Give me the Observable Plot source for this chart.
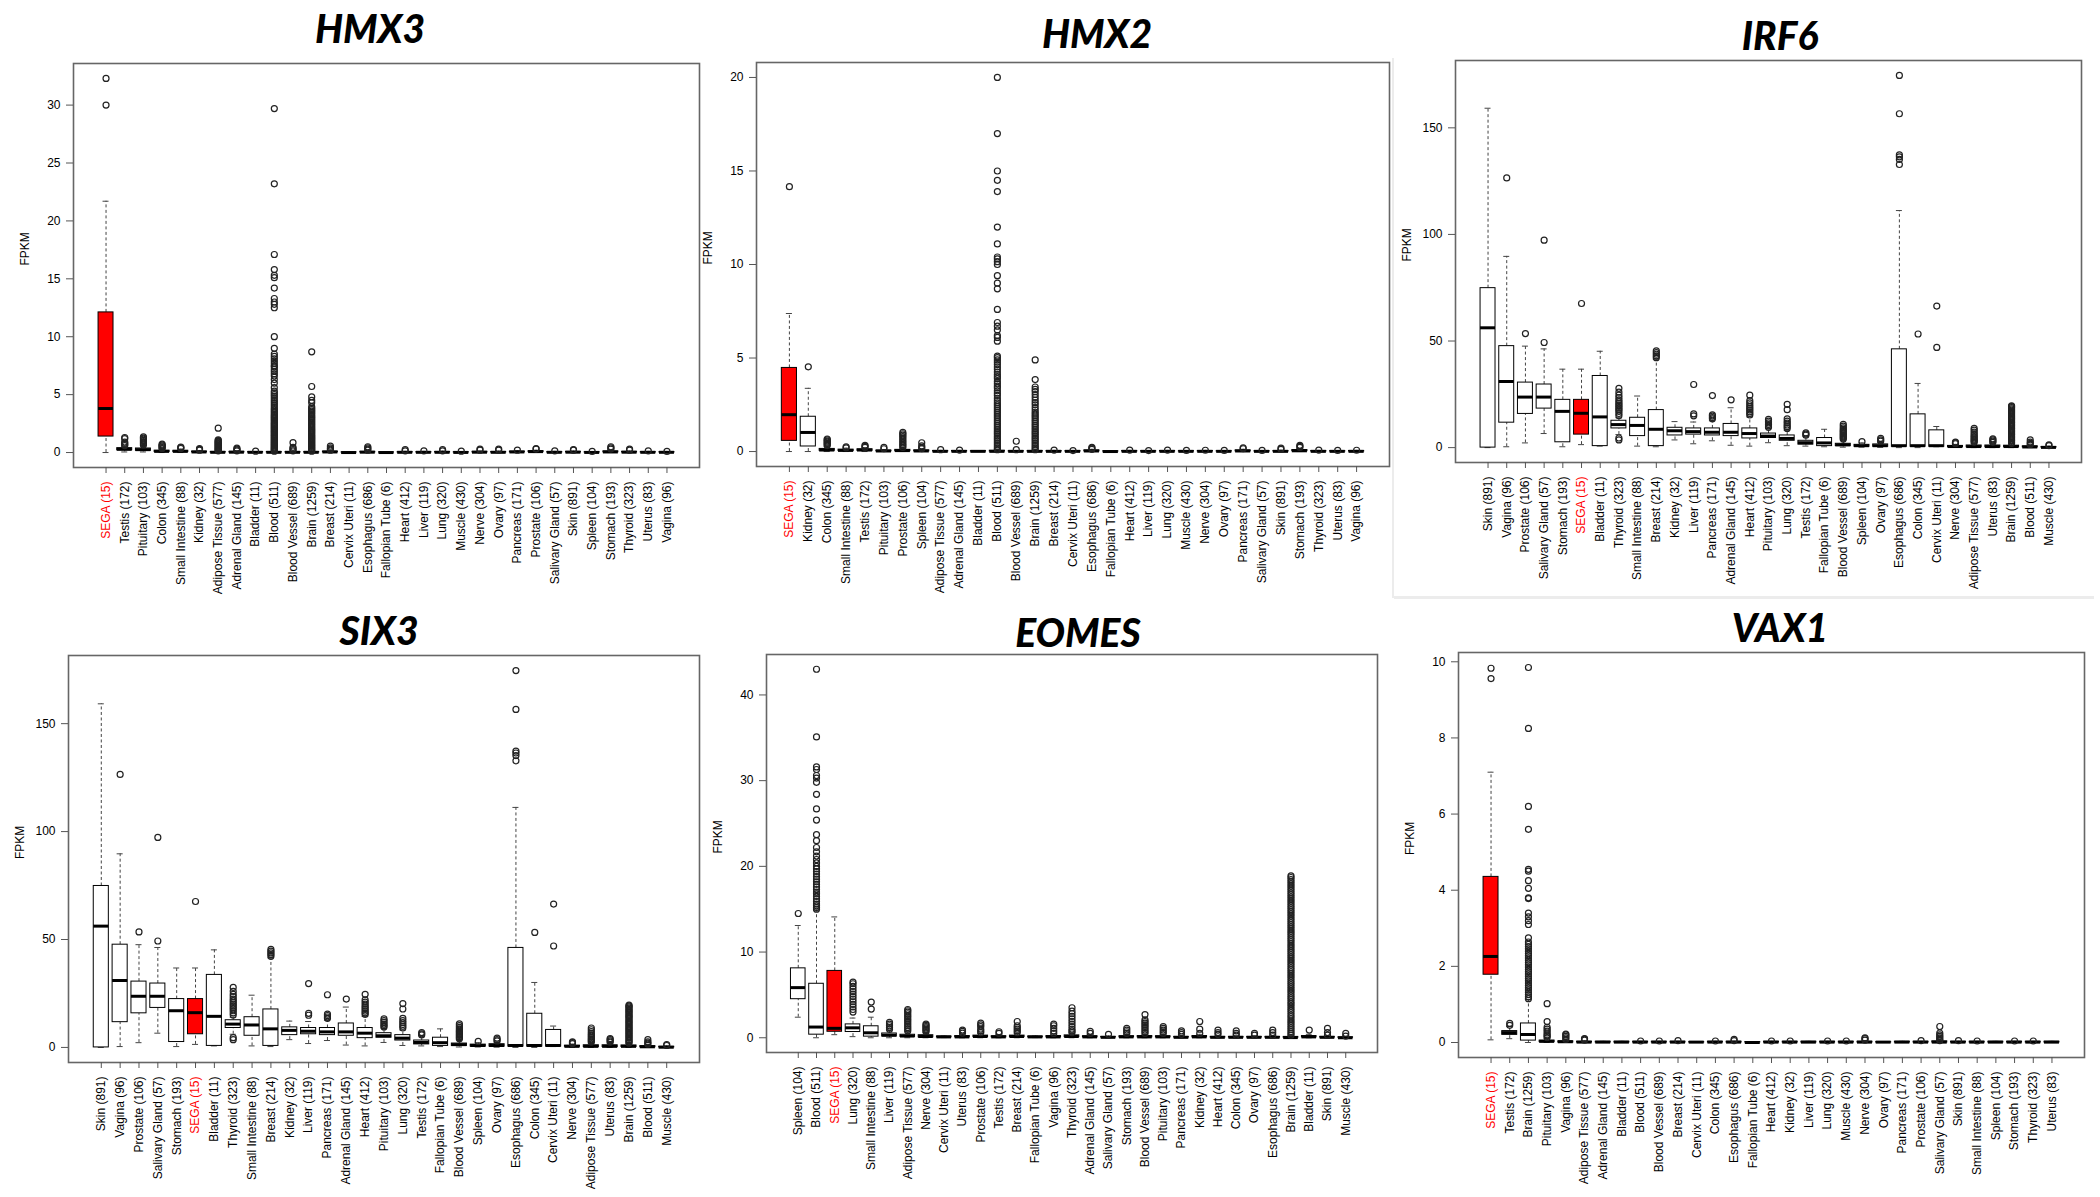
<!DOCTYPE html>
<html>
<head>
<meta charset="utf-8">
<script src="https://cdn.jsdelivr.net/npm/d3@7"></script>
<script src="https://cdn.jsdelivr.net/npm/@observablehq/plot@0.6"></script>
<style>
  html, body { margin: 0; padding: 0; background: #fff; }
  #page { position: relative; width: 2100px; height: 1197px; background: #fff; overflow: hidden; }
  .ttl { position: absolute; transform: translate(-50%, -50%); font-family: Lato, "Open Sans", sans-serif;
         font-weight: 900; font-style: italic; font-size: 39px; line-height: 1; color: #000; white-space: nowrap; }
  .pnl { position: absolute; }
  .faint { position: absolute; background: #ececec; }
</style>
</head>
<body>
<div id="page"></div>
<script>
// ---------------- DATA ----------------
// Tick values of the FPKM axes
const hmx3Ticks = [0, 5, 10, 15, 20, 25, 30];
const hmx2Ticks = [0, 5, 10, 15, 20];
const irf6Ticks = [0, 50, 100, 150];
const eomesTicks = [0, 10, 20, 30, 40];
const vax1Ticks = [0, 2, 4, 6, 8, 10];

// HMX3
const hmx3Labels = ["SEGA (15)","Testis (172)","Pituitary (103)","Colon (345)","Small Intestine (88)","Kidney (32)","Adipose Tissue (577)","Adrenal Gland (145)","Bladder (11)","Blood (511)","Blood Vessel (689)","Brain (1259)","Breast (214)","Cervix Uteri (11)","Esophagus (686)","Fallopian Tube (6)","Heart (412)","Liver (119)","Lung (320)","Muscle (430)","Nerve (304)","Ovary (97)","Pancreas (171)","Prostate (106)","Salivary Gland (57)","Skin (891)","Spleen (104)","Stomach (193)","Thyroid (323)","Uterus (83)","Vagina (96)"];
const hmx3Q1  = [1.38,0.2,0.15,0.05,0.05,0.02,0,0.01,0,0,0,0,0.02,0,0.01,0,0,0,0,0,0.01,0,0.02,0.04,0,0.01,0,0.02,0.01,0,0];
const hmx3Med = [3.8,0.28,0.25,0.1,0.1,0.05,0.02,0.03,0.02,0.02,0.02,0.02,0.05,0,0.03,0,0.02,0.02,0.02,0.01,0.03,0.02,0.05,0.08,0.02,0.03,0.01,0.05,0.03,0.02,0.02];
const hmx3Q3  = [12.1,0.38,0.35,0.16,0.15,0.08,0.05,0.06,0.04,0.04,0.04,0.04,0.08,0.01,0.06,0.01,0.04,0.04,0.05,0.03,0.06,0.05,0.08,0.12,0.04,0.06,0.03,0.1,0.06,0.04,0.04];
const hmx3Lo  = [0,0.05,0.05,0,0,0,0,0,0,0,0,0,0,0,0,0,0,0,0,0,0,0,0,0,0,0,0,0,0,0,0];
const hmx3Hi  = [21.7,0.55,0.6,0.3,0.3,0.15,0.12,0.12,0.08,0.1,0.1,0.1,0.15,0.02,0.12,0.02,0.1,0.1,0.12,0.07,0.12,0.12,0.15,0.2,0.1,0.12,0.07,0.2,0.12,0.1,0.08];
const hmx3Out = [
  [30.0,32.3],
  [0.6,0.7,0.8,0.9,1.2,1.3],
  [0.65,0.75,0.85,0.95,1.05,1.15,1.25,1.35],
  [0.35,0.42,0.5,0.58,0.65,0.72],
  [0.35,0.42,0.48],
  [0.2,0.28,0.33],
  [0.15,0.2,0.25,0.3,0.36,0.42,0.48,0.54,0.6,0.66,0.72,0.78,0.84,0.9,0.96,1.02,1.1,2.1],
  [0.15,0.22,0.3,0.38],
  [0.12],
  [0.12,0.18,0.25,0.33,0.4,0.48,0.55,0.63,0.7,0.78,0.86,0.94,1.02,1.1,1.18,1.27,1.35,1.44,1.52,1.6,1.7,1.78,1.87,1.95,2.05,2.14,2.23,2.32,2.42,2.5,2.6,2.7,2.8,2.9,3.0,3.1,3.2,3.3,3.42,3.55,3.68,3.8,3.95,4.1,4.25,4.4,4.55,4.7,4.85,5.0,5.15,5.3,5.6,6.0,6.3,6.6,6.8,7.0,7.2,7.4,7.5,7.7,7.9,8.1,8.3,8.5,9.0,10.0,12.5,12.8,13.0,13.3,14.2,15.1,15.3,15.8,17.1,23.2,29.7],
  [0.15,0.25,0.35,0.45,0.85],
  [0.12,0.2,0.28,0.36,0.45,0.53,0.62,0.7,0.8,0.88,0.97,1.06,1.15,1.24,1.33,1.42,1.52,1.62,1.72,1.82,1.92,2.02,2.12,2.22,2.33,2.44,2.55,2.66,2.77,2.88,3.0,3.1,3.22,3.34,3.46,3.58,3.7,3.82,3.95,4.3,4.5,4.8,5.7,8.7],
  [0.2,0.3,0.4,0.55],
  [],
  [0.2,0.3,0.4,0.5],
  [],
  [0.15,0.25],
  [0.15],
  [0.15,0.25],
  [0.12],
  [0.2,0.3],
  [0.2,0.3],
  [0.2],
  [0.3,0.35],
  [0.15],
  [0.2,0.25],
  [0.1],
  [0.3,0.4,0.5],
  [0.2,0.3],
  [0.15],
  [0.1]
];

// HMX2
const hmx2Labels = ["SEGA (15)","Kidney (32)","Colon (345)","Small Intestine (88)","Testis (172)","Pituitary (103)","Prostate (106)","Spleen (104)","Adipose Tissue (577)","Adrenal Gland (145)","Bladder (11)","Blood (511)","Blood Vessel (689)","Brain (1259)","Breast (214)","Cervix Uteri (11)","Esophagus (686)","Fallopian Tube (6)","Heart (412)","Liver (119)","Lung (320)","Muscle (430)","Nerve (304)","Ovary (97)","Pancreas (171)","Salivary Gland (57)","Skin (891)","Stomach (193)","Thyroid (323)","Uterus (83)","Vagina (96)"];
const hmx2Q1  = [0.57,0.27,0.04,0.03,0.04,0.01,0.02,0.01,0,0,0,0,0,0,0,0,0.01,0,0,0,0,0,0,0,0.01,0,0,0.02,0,0,0];
const hmx2Med = [1.97,1.02,0.08,0.06,0.08,0.03,0.05,0.03,0.01,0.01,0.01,0.01,0.01,0.01,0.01,0.01,0.03,0,0.01,0.01,0.01,0.01,0.01,0.01,0.03,0.01,0.01,0.04,0.01,0.01,0.01];
const hmx2Q3  = [4.47,1.86,0.14,0.1,0.12,0.05,0.09,0.06,0.03,0.03,0.02,0.04,0.02,0.03,0.03,0.02,0.06,0.01,0.03,0.02,0.03,0.02,0.03,0.02,0.06,0.02,0.03,0.08,0.03,0.02,0.03];
const hmx2Lo  = [0,0,0,0,0,0,0,0,0,0,0,0,0,0,0,0,0,0,0,0,0,0,0,0,0,0,0,0,0,0,0];
const hmx2Hi  = [7.38,3.38,0.28,0.18,0.2,0.1,0.18,0.12,0.06,0.06,0.04,0.09,0.05,0.07,0.06,0.04,0.12,0.02,0.06,0.04,0.06,0.04,0.06,0.04,0.12,0.04,0.07,0.16,0.06,0.04,0.06];
const hmx2Out = [
  [14.16],
  [4.53],
  [0.32,0.38,0.44,0.5,0.56,0.62,0.67],
  [0.2,0.25],
  [0.22,0.28,0.33],
  [0.15,0.22],
  [0.22,0.3,0.38,0.46,0.55,0.63,0.72,0.8,0.88,0.95,1.02],
  [0.15,0.22,0.3,0.47],
  [0.1],
  [0.08],
  [],
  [0.1,0.18,0.27,0.36,0.45,0.55,0.64,0.73,0.82,0.92,1.01,1.1,1.2,1.3,1.4,1.5,1.6,1.7,1.8,1.9,2.0,2.1,2.2,2.3,2.4,2.5,2.6,2.72,2.85,3.0,3.12,3.25,3.4,3.5,3.62,3.75,3.9,4.0,4.12,4.25,4.4,4.52,4.65,4.78,4.9,5.02,5.1,5.9,6.1,6.2,6.5,6.7,6.9,7.6,8.7,9.0,9.4,10.0,10.15,10.3,10.4,11.1,12.0,13.9,14.5,15.0,17.0,20.0],
  [0.1,0.55],
  [0.1,0.18,0.27,0.36,0.45,0.55,0.64,0.73,0.82,0.92,1.01,1.1,1.2,1.3,1.4,1.5,1.6,1.7,1.8,1.9,2.0,2.1,2.22,2.35,2.5,2.62,2.75,2.9,3.05,3.2,3.32,3.45,3.85,4.9],
  [0.08],
  [0.05],
  [0.12,0.18,0.22],
  [],
  [0.08],
  [0.05],
  [0.08],
  [0.06],
  [0.07],
  [0.06],
  [0.15,0.2],
  [0.06],
  [0.12,0.18],
  [0.22,0.28,0.33],
  [0.08],
  [0.06],
  [0.07]
];

// IRF6 (the SIX3 panel of the figure shows the same distribution)
const irf6Labels = ["Skin (891)","Vagina (96)","Prostate (106)","Salivary Gland (57)","Stomach (193)","SEGA (15)","Bladder (11)","Thyroid (323)","Small Intestine (88)","Breast (214)","Kidney (32)","Liver (119)","Pancreas (171)","Adrenal Gland (145)","Heart (412)","Pituitary (103)","Lung (320)","Testis (172)","Fallopian Tube (6)","Blood Vessel (689)","Spleen (104)","Ovary (97)","Esophagus (686)","Colon (345)","Cervix Uteri (11)","Nerve (304)","Adipose Tissue (577)","Uterus (83)","Brain (1259)","Blood (511)","Muscle (430)"];
const irf6Q1  = [0,11.7,15.8,18.3,2.5,6.1,0.7,9.0,5.4,0.7,5.7,6.1,5.7,5.4,4.3,4.5,3.2,1.4,0.7,0.7,0.4,0.4,0.4,0.4,0.4,0.3,0.2,0.2,0.2,0.1,0.0];
const irf6Med = [56.2,31.0,23.7,23.7,17.0,16.1,14.4,10.8,10.4,8.6,7.9,7.5,7.2,7.2,6.6,5.4,4.3,2.3,2.2,1.3,0.9,0.9,0.9,0.9,0.9,0.5,0.5,0.5,0.5,0.3,0.1];
const irf6Q3  = [74.8,47.6,30.5,29.6,22.4,22.4,33.6,12.6,14.0,17.6,9.3,9.0,9.0,11.1,9.0,6.6,5.7,3.2,4.5,1.8,1.3,1.5,46.1,15.6,8.1,0.8,1.0,1.0,0.9,0.6,0.3];
const irf6Lo  = [0,0.4,2.2,6.6,0.4,1.4,0.7,6.1,0.7,0.4,3.6,1.8,3.2,1.1,0.7,2.3,0.9,0.7,0.4,0.2,0.2,0.1,0,0,0.4,0.1,0,0,0,0,0];
const irf6Hi  = [159.2,89.7,47.6,46.3,36.8,36.8,45.2,14.0,24.2,41.5,12.2,12.0,12.6,18.7,14.4,9.0,8.1,5.4,8.6,3.6,2.2,2.5,111.2,30.1,9.9,1.5,2.0,2.0,1.9,1.2,0.7];
const irf6Out = [
  [],
  [126.5],
  [53.5],
  [49.3,97.3],
  [],
  [67.6],
  [],
  [3.6,4.5,15,16,17,17.8,18.5,19.3,20,20.8,21.6,22.4,23.5,24.6,26,27.8],
  [],
  [42.2,43.0,43.8,44.6,45.4],
  [],
  [14.9,15.8,29.6],
  [13.5,14.1,14.8,15.4,24.4],
  [22.4],
  [15.3,16.0,16.8,17.6,18.4,19.2,20.1,21.0,22.0,24.6],
  [9.5,10.1,10.8,11.6,12.4,13.2],
  [9.0,9.8,10.6,11.5,12.4,13.5,17.8,20.3],
  [5.8,6.3,6.9],
  [],
  [4.0,4.5,5.0,5.5,6.0,6.5,7.0,7.5,8.0,8.6,9.3,10.1,10.9],
  [2.8],
  [3.0,3.6,4.3],
  [132.8,135.2,136.4,137.3,156.6,174.6],
  [53.3],
  [47.0,66.4],
  [1.8,2.2,2.6],
  [2.5,3.0,3.5,4.0,4.6,5.2,5.8,6.5,7.3,8.2,9.0],
  [2.5,3.0,3.6,4.1],
  [2.0,2.5,3.1,3.6,4.2,4.8,5.3,5.9,6.4,7.0,7.6,8.1,8.7,9.2,9.8,10.4,10.9,11.5,12.0,12.6,13.2,13.7,14.3,14.8,15.4,16.0,16.5,17.1,17.6,18.2,18.8,19.2,19.6],
  [1.5,2.0,2.6,3.6],
  [0.9,1.3]
];

// EOMES
const eomesLabels = ["Spleen (104)","Blood (511)","SEGA (15)","Lung (320)","Small Intestine (88)","Liver (119)","Adipose Tissue (577)","Nerve (304)","Cervix Uteri (11)","Uterus (83)","Prostate (106)","Testis (172)","Breast (214)","Fallopian Tube (6)","Vagina (96)","Thyroid (323)","Adrenal Gland (145)","Salivary Gland (57)","Stomach (193)","Blood Vessel (689)","Pituitary (103)","Pancreas (171)","Kidney (32)","Heart (412)","Colon (345)","Ovary (97)","Esophagus (686)","Brain (1259)","Bladder (11)","Skin (891)","Muscle (430)"];
const eomesQ1  = [4.5,0.36,0.7,0.67,0.13,0.15,0.1,0.05,0.05,0.05,0.08,0.05,0.08,0.05,0.05,0.08,0.05,0.03,0.05,0.05,0.05,0.02,0.05,0.02,0.02,0.02,0.02,0,0.05,0.02,0];
const eomesMed = [5.85,1.25,1.1,1.16,0.58,0.3,0.2,0.15,0.1,0.1,0.15,0.1,0.15,0.1,0.1,0.15,0.1,0.05,0.1,0.1,0.1,0.05,0.1,0.05,0.05,0.05,0.05,0.02,0.1,0.05,0];
const eomesQ3  = [8.1,6.3,7.8,1.56,1.34,0.5,0.35,0.3,0.15,0.2,0.25,0.18,0.25,0.15,0.2,0.28,0.18,0.1,0.18,0.2,0.18,0.1,0.2,0.1,0.1,0.1,0.1,0.1,0.2,0.1,0.05];
const eomesLo  = [2.4,0,0.36,0.13,0,0,0,0,0.02,0,0,0,0,0.02,0,0,0,0,0,0,0,0,0,0,0,0,0,0,0,0,0];
const eomesHi  = [13.1,14.9,14.1,2.3,2.4,0.9,0.7,0.6,0.2,0.4,0.5,0.38,0.5,0.2,0.4,0.55,0.38,0.2,0.38,0.4,0.38,0.2,0.4,0.2,0.2,0.2,0.2,0.25,0.4,0.2,0.12];
const eomesOut = [
  [14.5],
  [15.0,15.2,15.4,15.6,15.9,16.2,16.5,16.8,17.0,17.3,17.6,17.9,18.2,18.5,18.8,19.1,19.4,19.7,20.0,20.4,20.8,21.2,21.7,22.2,23.0,23.7,25.4,26.7,28.4,29.8,30.3,30.6,31.3,31.6,35.1,43.0],
  [],
  [3.0,3.3,3.6,3.9,4.2,4.5,4.8,5.1,5.4,5.7,6.0,6.3,6.5],
  [3.35,4.16],
  [1.0,1.2,1.4,1.6,1.8],
  [0.8,1.0,1.2,1.4,1.6,1.8,2.0,2.2,2.4,2.6,2.8,3.0,3.15,3.3],
  [0.7,0.85,1.0,1.15,1.3,1.45,1.6],
  [],
  [0.55,0.75,0.9],
  [0.6,0.8,1.0,1.3,1.5,1.7],
  [0.5,0.7],
  [0.6,0.8,1.0,1.2,1.4,1.9],
  [],
  [0.5,0.8,1.1,1.4,1.6],
  [0.6,0.8,1.0,1.3,1.6,1.9,2.2,2.5,2.8,3.1,3.5],
  [0.5,0.75],
  [0.4],
  [0.5,0.7,0.9,1.1],
  [0.5,0.7,0.9,1.1,1.3,1.5,1.7,1.9,2.1,2.7],
  [0.5,0.7,0.9,1.1,1.3],
  [0.4,0.6,0.8],
  [0.5,1.0,1.9],
  [0.4,0.6,0.9],
  [0.3,0.5,0.8],
  [0.3,0.5],
  [0.3,0.6,0.9],
  [0.3,0.5,0.72,0.95,1.2,1.44,1.7,1.93,2.2,2.45,2.68,2.95,3.2,3.44,3.7,3.95,4.18,4.45,4.7,4.93,5.2,5.45,5.7,5.94,6.2,6.45,6.7,6.96,7.2,7.45,7.7,7.94,8.2,8.45,8.7,8.95,9.2,9.44,9.7,9.96,10.2,10.45,10.7,10.94,11.2,11.45,11.7,11.95,12.2,12.44,12.7,12.95,13.2,13.45,13.7,13.94,14.2,14.45,14.7,14.95,15.2,15.44,15.7,15.95,16.2,16.45,16.7,16.94,17.2,17.45,17.7,17.95,18.2,18.45,18.7,18.9],
  [0.9],
  [0.3,0.6,1.1],
  [0.2,0.5]
];

// VAX1
const vax1Labels = ["SEGA (15)","Testis (172)","Brain (1259)","Pituitary (103)","Vagina (96)","Adipose Tissue (577)","Adrenal Gland (145)","Bladder (11)","Blood (511)","Blood Vessel (689)","Breast (214)","Cervix Uteri (11)","Colon (345)","Esophagus (686)","Fallopian Tube (6)","Heart (412)","Kidney (32)","Liver (119)","Lung (320)","Muscle (430)","Nerve (304)","Ovary (97)","Pancreas (171)","Prostate (106)","Salivary Gland (57)","Skin (891)","Small Intestine (88)","Spleen (104)","Stomach (193)","Thyroid (323)","Uterus (83)"];
const vax1Q1  = [1.78,0.2,0.05,0.01,0,0,0,0,0,0,0,0,0,0,0,0,0,0,0,0,0,0,0,0,0,0,0,0,0,0,0];
const vax1Med = [2.26,0.26,0.21,0.03,0.02,0.01,0.01,0.01,0.01,0.01,0.01,0.01,0.01,0.01,0,0.01,0.01,0.01,0.01,0.01,0.01,0.01,0.01,0.01,0.01,0.01,0.01,0.01,0.01,0.01,0.01];
const vax1Q3  = [4.35,0.3,0.5,0.05,0.03,0.02,0.02,0.02,0.02,0.02,0.02,0.01,0.02,0.02,0.01,0.02,0.02,0.02,0.02,0.02,0.02,0.01,0.02,0.02,0.03,0.02,0.02,0.02,0.02,0.02,0.02];
const vax1Lo  = [0.07,0.1,0,0,0,0,0,0,0,0,0,0,0,0,0,0,0,0,0,0,0,0,0,0,0,0,0,0,0,0,0];
const vax1Hi  = [7.1,0.42,1.13,0.1,0.06,0.04,0.03,0.03,0.03,0.03,0.03,0.02,0.03,0.03,0.01,0.03,0.03,0.03,0.03,0.03,0.04,0.02,0.03,0.03,0.04,0.03,0.03,0.03,0.03,0.03,0.03];
const vax1Out = [
  [9.56,9.83],
  [0.45,0.5],
  [1.15,1.2,1.26,1.32,1.38,1.44,1.5,1.56,1.62,1.68,1.74,1.8,1.86,1.92,1.98,2.04,2.1,2.16,2.22,2.28,2.34,2.4,2.46,2.52,2.58,2.64,2.75,3.1,3.2,3.3,3.4,3.78,3.8,4.05,4.25,4.5,4.55,5.6,6.2,8.25,9.85],
  [0.13,0.17,0.2,0.25,0.3,0.35,0.4,0.55,1.02],
  [0.08,0.12,0.16,0.2,0.22],
  [0.06,0.09,0.1],
  [], [], [0.04], [0.04], [0.05], [], [0.04], [0.05,0.08], [], [0.04], [0.04], [], [0.04], [0.04],
  [0.06,0.1,0.12],
  [], [], [0.05],
  [0.05,0.08,0.12,0.16,0.2,0.25,0.42],
  [0.05], [0.04], [], [0.04], [0.04], []
];

// ---------------- LAYOUT ----------------
const panels = [
  {title: "HMX3",  L: 73,   R: 699,  T: 63,  B: 467,  tx: 370,  ty: 28,  ticks: hmx3Ticks,  d: [hmx3Labels, hmx3Q1, hmx3Med, hmx3Q3, hmx3Lo, hmx3Hi, hmx3Out]},
  {title: "HMX2",  L: 756,  R: 1389, T: 62,  B: 466,  tx: 1097, ty: 33,  ticks: hmx2Ticks,  d: [hmx2Labels, hmx2Q1, hmx2Med, hmx2Q3, hmx2Lo, hmx2Hi, hmx2Out]},
  {title: "IRF6",  L: 1455, R: 2081, T: 60,  B: 462,  tx: 1780, ty: 35,  ticks: irf6Ticks,  d: [irf6Labels, irf6Q1, irf6Med, irf6Q3, irf6Lo, irf6Hi, irf6Out]},
  {title: "SIX3",  L: 68,   R: 699,  T: 655, B: 1062, tx: 379,  ty: 630, ticks: irf6Ticks,  d: [irf6Labels, irf6Q1, irf6Med, irf6Q3, irf6Lo, irf6Hi, irf6Out]},
  {title: "EOMES", L: 766,  R: 1377, T: 654, B: 1052, tx: 1078, ty: 632, ticks: eomesTicks, d: [eomesLabels, eomesQ1, eomesMed, eomesQ3, eomesLo, eomesHi, eomesOut]},
  {title: "VAX1",  L: 1458, R: 2084, T: 652, B: 1057, tx: 1780, ty: 627, ticks: vax1Ticks,  d: [vax1Labels, vax1Q1, vax1Med, vax1Q3, vax1Lo, vax1Hi, vax1Out]}
];

const page = document.getElementById("page");
const ML = 72, MR = 6, MT = 8, MB = 140;

function addFaint(x, y, w, h) {
  const f = document.createElement("div");
  f.className = "faint";
  Object.assign(f.style, {left: x + "px", top: y + "px", width: w + "px", height: h + "px"});
  page.appendChild(f);
}
addFaint(1392, 58, 2, 540);
addFaint(1394, 596, 700, 3);

for (const p of panels) {
  const [labels, q1, med, q3, lo, hi, out] = p.d;
  const stats = labels.map((label, i) => ({label, q1: q1[i], med: med[i], q3: q3[i], lo: lo[i], hi: hi[i]}));
  const pts = labels.flatMap((label, i) => out[i].map(v => ({label, v})));
  const all = [...lo, ...hi, ...out.flat()];
  const [mn, mx] = d3.extent(all);
  const pad = (mx - mn) * 0.04;
  const W = p.R - p.L, H = p.B - p.T;
  const step = W / (labels.length + 2.48);
  const cap = step * 0.8 * 0.3;
  const isSega = d => d.label.startsWith("SEGA");

  const svg = Plot.plot({
    width: W + ML + MR,
    height: H + MT + MB,
    marginLeft: ML, marginRight: MR, marginTop: MT, marginBottom: MB,
    style: {fontFamily: "'Liberation Sans', Arial, sans-serif", fontSize: "12px", background: "transparent", overflow: "visible", color: "#000"},
    x: {type: "band", domain: labels, paddingInner: 0.2, paddingOuter: 1.34, align: 0.5, round: false},
    y: {domain: [mn - pad, mx + pad]},
    marks: [
      Plot.frame({stroke: "#666", strokeWidth: 1.6}),
      Plot.axisY({ticks: p.ticks, tickSize: 7, tickPadding: 6, tickFormat: d3.format("d"), label: null, fontSize: 12, stroke: "#555", fill: "#000"}),
      Plot.axisX({tickRotate: -90, tickSize: 6, tickPadding: 8, label: null, fontSize: 12, stroke: "#555", fill: "#000"}),
      Plot.text(["FPKM"], {frameAnchor: "left", dx: -48, rotate: -90, fontSize: 12, fill: "#000"}),
      Plot.ruleX(stats, {x: "label", y1: "q3", y2: "hi", stroke: "#444", strokeDasharray: "3,2.5", strokeWidth: 1}),
      Plot.ruleX(stats, {x: "label", y1: "lo", y2: "q1", stroke: "#444", strokeDasharray: "3,2.5", strokeWidth: 1}),
      Plot.tickY(stats, {x: "label", y: "hi", insetLeft: cap, insetRight: cap, stroke: "#444", strokeWidth: 1}),
      Plot.tickY(stats, {x: "label", y: "lo", insetLeft: cap, insetRight: cap, stroke: "#444", strokeWidth: 1}),
      Plot.barY(stats, {x: "label", y1: "q1", y2: "q3", fill: d => isSega(d) ? "#ff0000" : "#ffffff", stroke: "#000", strokeWidth: 1}),
      Plot.tickY(stats, {x: "label", y: "med", stroke: "#000", strokeWidth: 3}),
      Plot.dot(pts, {x: "label", y: "v", r: 3, stroke: "#222", fill: "none", strokeWidth: 1.2})
    ]
  });
  svg.querySelectorAll("text").forEach(t => {
    if (t.textContent.startsWith("SEGA")) t.setAttribute("fill", "#ff0000");
  });
  const wrap = document.createElement("div");
  wrap.className = "pnl";
  wrap.style.left = (p.L - ML) + "px";
  wrap.style.top = (p.T - MT) + "px";
  wrap.appendChild(svg);
  page.appendChild(wrap);

  const t = document.createElement("div");
  t.className = "ttl";
  t.textContent = p.title;
  t.style.left = p.tx + "px";
  t.style.top = p.ty + "px";
  page.appendChild(t);
}
</script>
</body>
</html>
